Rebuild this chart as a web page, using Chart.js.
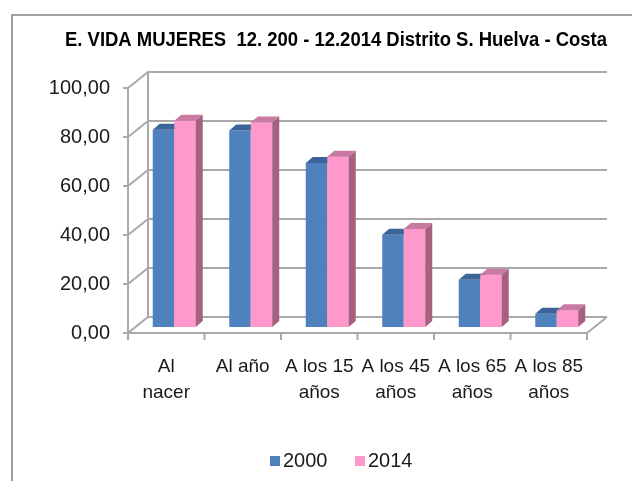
<!DOCTYPE html>
<html>
<head>
<meta charset="utf-8">
<script src="https://cdn.jsdelivr.net/npm/chart.js@4.4.1/dist/chart.umd.min.js"></script>
<style>
  html, body { margin: 0; padding: 0; background: #fff; }
  #wrap { width: 632px; height: 481px; }
</style>
</head>
<body>
<div id="wrap"><canvas id="myChart" width="632" height="481"></canvas></div>
<script>
const categories = [["Al", "nacer"], "Al año", ["A los 15", "años"], ["A los 45", "años"], ["A los 65", "años"], ["A los 85", "años"]];
const seriesNames = ["2000", "2014"];
const values2000 = [80.5, 80.2, 66.9, 37.7, 19.3, 5.4];
const values2014 = [84.2, 83.5, 69.5, 40.0, 21.3, 6.8];
const yTicks = [0, 20, 40, 60, 80, 100];

const blue = "#4f81bd", blueTop = "#3b6596";
const pink = "#ff99cc", pinkTop = "#c97aa2", pinkSide = "#a5617f";
const gridCol = "#a9a9a9";
// 3d offsets: back wall and bar depth
const WX = 20, WY = -16;
const BX = 8, BY = -6;
const DX = 7, DY = -6;

Chart.defaults.font.family = "'Liberation Sans', Arial, sans-serif";
Chart.defaults.color = "#1a1a1a";

function face(ctx, pts, color) {
  ctx.beginPath();
  ctx.moveTo(pts[0][0], pts[0][1]);
  for (let i = 1; i < pts.length; i++) ctx.lineTo(pts[i][0], pts[i][1]);
  ctx.closePath();
  ctx.fillStyle = color;
  ctx.fill();
}

const walls = {
  id: "walls",
  afterLayout(chart) {
    // title is centred over the whole frame, not the padded box
    const t = chart.titleBlock;
    t.left += 20;
    t.right += 20;
  },
  beforeDraw(chart) {
    const ctx = chart.ctx;
    ctx.save();
    ctx.strokeStyle = "#a0a0a0";
    ctx.lineWidth = 2;
    ctx.beginPath();
    ctx.moveTo(12, 481);
    ctx.lineTo(12, 15);
    ctx.lineTo(632, 15);
    ctx.stroke();
    ctx.restore();
  },
  beforeDatasetsDraw(chart) {
    const ctx = chart.ctx;
    const ys = chart.scales.y, xs = chart.scales.x;
    const a = chart.chartArea;
    const y0 = ys.getPixelForValue(0), y1 = ys.getPixelForValue(100);
    ctx.save();
    ctx.strokeStyle = gridCol;
    ctx.lineWidth = 2;
    ctx.beginPath();
    yTicks.forEach(v => {
      const py = ys.getPixelForValue(v);
      ctx.moveTo(a.left - 5, py);
      ctx.lineTo(a.left, py);
      ctx.lineTo(a.left + WX, py + WY);
      ctx.lineTo(a.right + WX, py + WY);
    });
    ctx.moveTo(a.left + WX, y0 + WY);
    ctx.lineTo(a.left + WX, y1 + WY);
    ctx.moveTo(a.left, y1);
    ctx.lineTo(a.left, y0 + 7);
    ctx.moveTo(a.left, y0);
    ctx.lineTo(a.right, y0);
    ctx.lineTo(a.right + WX, y0 + WY);
    for (let i = 0; i < categories.length; i++) {
      const bx = xs.getPixelForValue(i) + (xs.getPixelForValue(1) - xs.getPixelForValue(0)) / 2;
      ctx.moveTo(bx, y0);
      ctx.lineTo(bx, y0 + 7);
    }
    ctx.stroke();
    ctx.restore();
    ctx.save();
    ctx.translate(BX, BY);
  },
  afterDatasetsDraw(chart) {
    const ctx = chart.ctx;
    const m0 = chart.getDatasetMeta(0).data, m1 = chart.getDatasetMeta(1).data;
    for (let i = 0; i < m0.length; i++) {
      const b = m0[i], p = m1[i];
      let l = b.x - b.width / 2, r = b.x + b.width / 2;
      face(ctx, [[l, b.y], [r, b.y], [r + DX, b.y + DY], [l + DX, b.y + DY]], blueTop);
      p.draw(ctx);
      l = p.x - p.width / 2; r = p.x + p.width / 2;
      face(ctx, [[l, p.y], [r, p.y], [r + DX, p.y + DY], [l + DX, p.y + DY]], pinkTop);
      face(ctx, [[r, p.y], [r + DX, p.y + DY], [r + DX, p.base + DY], [r, p.base]], pinkSide);
    }
    ctx.restore();
  },
  afterDraw(chart) {
    const ctx = chart.ctx;
    ctx.save();
    ctx.font = "20px 'Liberation Sans', Arial, sans-serif";
    ctx.textBaseline = "middle";
    const xs = [270, 355];
    chart.data.datasets.forEach((ds, i) => {
      ctx.fillStyle = ds.backgroundColor;
      ctx.fillRect(xs[i], 456, 10, 10);
      ctx.fillStyle = "#1a1a1a";
      ctx.fillText(ds.label, xs[i] + 13, 461);
    });
    ctx.restore();
  }
};

const ctx = document.getElementById("myChart");

new Chart(ctx, {
  type: "bar",
  data: {
    labels: categories,
    datasets: [
      { label: seriesNames[0], data: values2000, backgroundColor: blue, borderWidth: 0, clip: false },
      { label: seriesNames[1], data: values2014, backgroundColor: pink, borderWidth: 0, clip: false }
    ]
  },
  options: {
    responsive: false,
    animation: false,
    events: [],
    layout: { padding: { left: 45, right: 45, top: 0, bottom: 0 } },
    datasets: { bar: { categoryPercentage: 0.562, barPercentage: 1 } },
    plugins: {
      legend: { display: false },
      tooltip: { enabled: false },
      title: {
        display: true,
        text: "E. VIDA MUJERES  12. 200 - 12.2014 Distrito S. Huelva - Costa",
        color: "#000",
        font: { size: 20, weight: "bold", lineHeight: 1.2 },
        padding: { top: 28, bottom: 36 }
      }
    },
    scales: {
      x: {
        grid: { display: false, drawTicks: false },
        border: { display: false },
        ticks: { font: { size: 19, lineHeight: 1.37 }, padding: 21, maxRotation: 0, autoSkip: false },
        afterFit(s) { s.height = 148; }
      },
      y: {
        min: 0,
        max: 100,
        grid: { display: false, drawTicks: false },
        border: { display: false },
        ticks: {
          stepSize: 20,
          font: { size: 20 },
          padding: 18,
          callback: v => v.toFixed(2).replace(".", ",")
        },
        afterFit(s) { s.width = 83; }
      }
    }
  },
  plugins: [walls]
});
</script>
</body>
</html>
